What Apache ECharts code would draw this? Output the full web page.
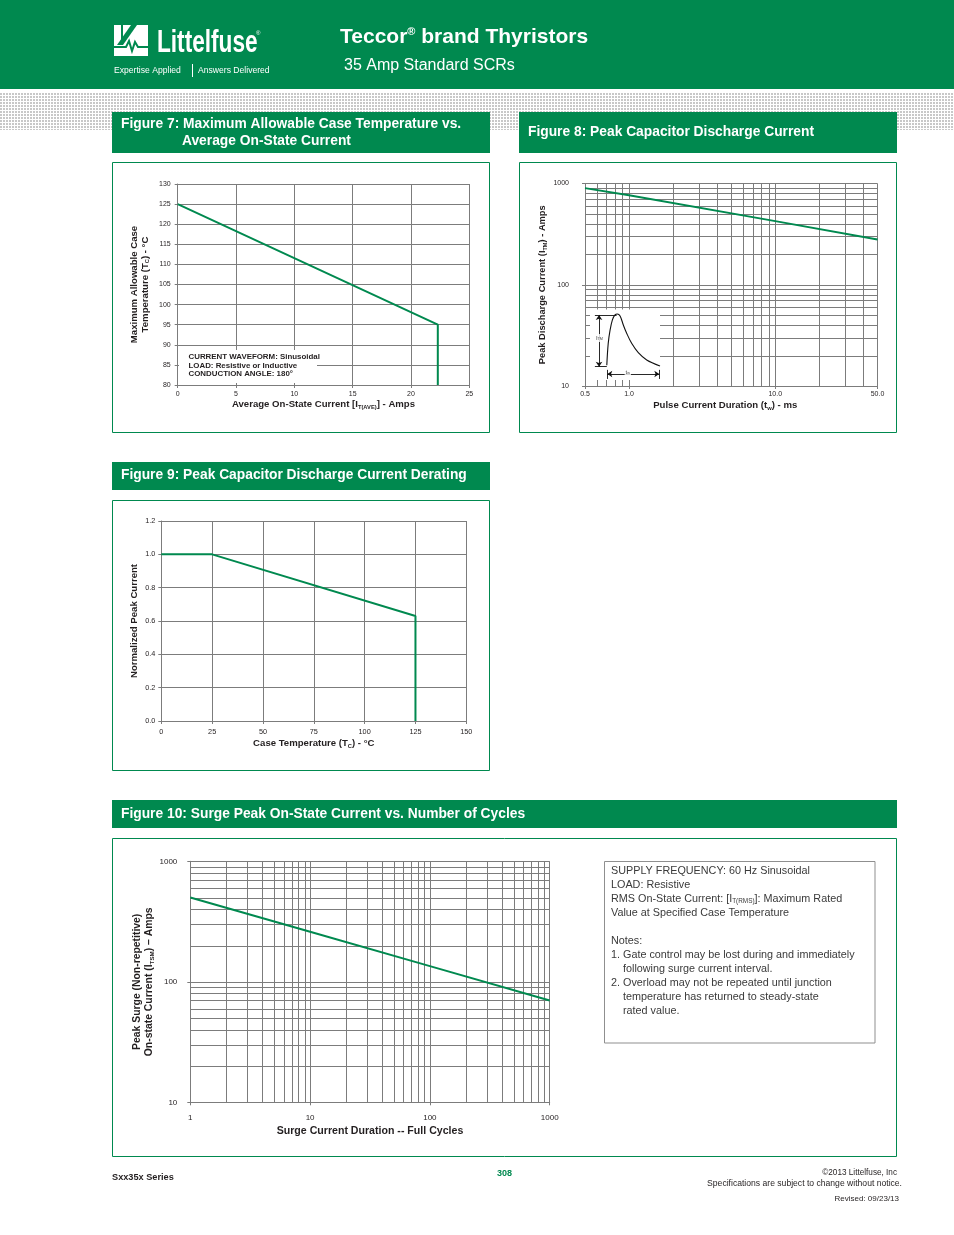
<!DOCTYPE html>
<html><head><meta charset="utf-8">
<script src="https://cdn.jsdelivr.net/npm/echarts@6/dist/echarts.min.js"></script>
<style>html,body{margin:0;padding:0;background:#fff}#c{width:954px;height:1235px}</style>
</head><body><div id="c"></div>
<script>
// ---------------- data ----------------
// Figure 7
const fig7Current = [0, 22.3, 22.3];
const fig7CaseTemp = [125, 95, 80];
// Figure 8
const fig8Duration = [0.5, 1, 10, 50];
const fig8PeakCurrent = [900, 765, 425, 280];
const fig8MinorX = [0.6, 0.7, 0.8, 0.9, 2, 3, 4, 5, 6, 7, 8, 9, 20, 30, 40];
const fig8MinorY = [20, 30, 40, 50, 60, 70, 80, 90, 200, 300, 400, 500, 600, 700, 800, 900];
// Figure 8 inset (schematic pulse, inset units 0..100)
const insetPulseX = [24, 26, 28.6, 32, 35.7, 39, 43, 47.6, 52.4, 59.5, 69, 81, 100];
const insetPulseY = [21, 52, 71, 86, 93, 94.3, 91.4, 78.6, 66.7, 52.4, 39, 28.6, 20];
// [x1, y1, x2, y2, arrowAtStart, arrowAtEnd]
const insetGuides = [
  [12.9, 92.9, 12.9, 19, 1, 1],
  [7, 92.9, 38, 92.9, 0, 0],
  [7, 19, 24, 19, 0, 0],
  [24.7, 8.6, 99, 8.6, 1, 1],
  [24.7, 14.5, 24.7, 1.5, 0, 0],
  [99, 14.5, 99, 1.5, 0, 0]
];
const insetLabels = [[13.5, 60, 'I{s|TM}'], [54, 11.5, 't{s|w}']];
// Figure 9
const fig9CaseTemp = [0, 25, 125, 125];
const fig9Normalized = [1.0, 1.0, 0.63, 0];
// Figure 10
const fig10Cycles = [1, 10, 100, 1000];
const fig10Surge = [500, 260, 135, 70];
const fig10MinorX = [2, 3, 4, 5, 6, 7, 8, 9, 20, 30, 40, 50, 60, 70, 80, 90, 200, 300, 400, 500, 600, 700, 800, 900];
const fig10MinorY = [20, 30, 40, 50, 60, 70, 80, 90, 200, 300, 400, 500, 600, 700, 800, 900];
// Notes
const notesLines = [
  'SUPPLY FREQUENCY: 60 Hz Sinusoidal',
  'LOAD: Resistive',
  'RMS On-State Current: [I{s|T(RMS)}]: Maximum Rated',
  'Value at Specified Case Temperature',
  '',
  'Notes:',
  '1. Gate control may be lost during and immediately',
  '   following surge current interval.',
  '2. Overload may not be repeated until junction',
  '   temperature has returned to steady-state',
  '   rated value.'
];

// ---------------- style ----------------
const GREEN = '#00894f';
const GRIDC = '#7c7c7c';
const TXT = '#231f20';
const FF = "'Liberation Sans', Arial, Helvetica, sans-serif";

function subRich(size) {
  return { s: { fontFamily: FF, fontSize: size * 0.6, fontWeight: 'bold', color: TXT, verticalAlign: 'bottom', lineHeight: size * 0.9 } };
}
function axis(gridIndex, cfg) {
  const a = {
    gridIndex,
    type: cfg.type || 'value',
    min: cfg.min, max: cfg.max,
    name: cfg.name, nameLocation: 'middle', nameGap: cfg.nameGap,
    nameTextStyle: { color: TXT, fontFamily: FF, fontSize: cfg.nameSize, fontWeight: 'bold', lineHeight: cfg.nameLH || cfg.nameSize * 1.2, padding: cfg.namePad || 0, rich: subRich(cfg.nameSize) },
    axisLine: { show: true, lineStyle: { color: GRIDC, width: 1 } },
    axisTick: { show: true, inside: false, length: 3, lineStyle: { color: GRIDC } },
    splitLine: { show: true, lineStyle: { color: GRIDC, width: 1, type: 'solid' } },
    axisLabel: { color: TXT, fontFamily: FF, fontSize: cfg.labelSize, margin: cfg.margin, showMinLabel: true, showMaxLabel: true, hideOverlap: false, formatter: cfg.formatter },
    minorTick: { show: false }, minorSplitLine: { show: false }
  };
  if (cfg.interval != null) a.interval = cfg.interval;
  if (a.type === 'log') a.logBase = 10;
  return a;
}
function minorGrid(idx, xs, ys, yRef, xRef) {
  const data = xs.map(v => [v, yRef, 0]).concat(ys.map(v => [xRef, v, 1]));
  return {
    type: 'custom', xAxisIndex: idx, yAxisIndex: idx, z: 1, silent: true, data,
    renderItem(params, api) {
      const cs = params.coordSys;
      const p = api.coord([api.value(0), api.value(1)]);
      const shape = api.value(2) === 0
        ? { x1: Math.round(p[0]) + 0.5, y1: cs.y, x2: Math.round(p[0]) + 0.5, y2: cs.y + cs.height }
        : { x1: cs.x, y1: Math.round(p[1]) + 0.5, x2: cs.x + cs.width, y2: Math.round(p[1]) + 0.5 };
      return { type: 'line', shape, style: { stroke: GRIDC, lineWidth: 1 } };
    }
  };
}
function dataLine(idx, xs, ys) {
  return {
    type: 'line', xAxisIndex: idx, yAxisIndex: idx, z: 3, symbol: 'none', silent: true,
    lineStyle: { color: GREEN, width: 2 }, data: xs.map((x, i) => [x, ys[i]])
  };
}

// dotted pattern
const dot = document.createElement('canvas');
dot.width = 3; dot.height = 3;
const dctx = dot.getContext('2d');
dctx.fillStyle = '#c8c8c8'; dctx.fillRect(0, 0, 2, 2);

function txt(x, y, text, o) {
  o = o || {};
  return {
    type: 'text', x, y, z: o.z != null ? o.z : 10, silent: true,
    scaleX: o.sx || 1, originX: 0, originY: 0,
    style: {
      text, x: 0, y: 0, fill: o.color || TXT, fontFamily: FF, fontSize: o.size || 10,
      fontWeight: o.weight || 'normal', align: o.align || 'left', verticalAlign: 'middle', rich: o.rich
    }
  };
}
function rect(x, y, w, h, style, z) {
  return { type: 'rect', z: z != null ? z : 0, silent: true, shape: { x, y, width: w, height: h }, style };
}

const g = [];
// header
g.push(rect(0, 0, 954, 89, { fill: GREEN }, 0));
g.push(rect(0, 93, 954, 37, { fill: { image: dot, repeat: 'repeat' } }, 0));
// logo icon
g.push(rect(114, 25, 34, 31, { fill: '#fff' }, 1));
g.push({ type: 'polygon', z: 2, silent: true, shape: { points: [[131, 25], [137, 25], [123, 45], [117, 45]] }, style: { fill: GREEN } });
g.push({ type: 'polyline', z: 2, silent: true, shape: { points: [[114, 47], [126, 47], [129, 41], [132, 51], [135, 42], [138, 47], [148, 47]] }, style: { stroke: GREEN, lineWidth: 2, fill: null } });
g.push(rect(121, 25, 2, 18, { fill: GREEN }, 2));
g.push(txt(157, 43, 'Littelfuse', { size: 31, weight: 'bold', color: '#fff', sx: 0.73 }));
g.push(txt(256, 33, '®', { size: 6, color: '#fff' }));
g.push(txt(114, 70.5, 'Expertise Applied', { size: 8.6, color: '#fff' }));
g.push({ type: 'line', z: 2, silent: true, shape: { x1: 192.5, y1: 64, x2: 192.5, y2: 77 }, style: { stroke: '#fff', lineWidth: 1 } });
g.push(txt(198, 70.5, 'Answers Delivered', { size: 8.6, color: '#fff' }));
g.push(txt(340, 37, 'Teccor{sup|®} brand Thyristors', { size: 21, weight: 'bold', color: '#fff', rich: { sup: { fontSize: 11, fontWeight: 'bold', fill: '#fff', color: '#fff', verticalAlign: 'top', fontFamily: FF } } }));
g.push(txt(344, 66, '35 Amp Standard SCRs', { size: 16, color: '#fff' }));

// title boxes
const TS = 13.8;
g.push(rect(112, 112, 378, 41, { fill: GREEN }, 1));
g.push(txt(121, 124.5, 'Figure 7: Maximum Allowable Case Temperature vs.', { size: TS, weight: 'bold', color: '#fff' }));
g.push(txt(182, 141.5, 'Average On-State Current', { size: TS, weight: 'bold', color: '#fff' }));
g.push(rect(519, 112, 378, 41, { fill: GREEN }, 1));
g.push(txt(528, 132.5, 'Figure 8: Peak Capacitor Discharge Current', { size: TS, weight: 'bold', color: '#fff' }));
g.push(rect(112, 462, 378, 28, { fill: GREEN }, 1));
g.push(txt(121, 475.5, 'Figure 9: Peak Capacitor Discharge Current Derating', { size: TS, weight: 'bold', color: '#fff' }));
g.push(rect(112, 800, 785, 28, { fill: GREEN }, 1));
g.push(txt(121, 814.5, 'Figure 10: Surge Peak On-State Current vs. Number of Cycles', { size: TS, weight: 'bold', color: '#fff' }));

// frames
const frame = { fill: 'none', stroke: GREEN, lineWidth: 1 };
g.push(rect(112.5, 162.5, 377, 270, frame, 1));
g.push(rect(519.5, 162.5, 377, 270, frame, 1));
g.push(rect(112.5, 500.5, 377, 270, frame, 1));
g.push(rect(112.5, 838.5, 784, 318, frame, 1));

// fig 7 annotation
g.push(rect(179, 350, 138, 33, { fill: '#fff' }, 3));
g.push(txt(188.5, 357.3, 'CURRENT WAVEFORM: Sinusoidal', { size: 7.9, weight: 'bold', z: 4 }));
g.push(txt(188.5, 365.6, 'LOAD: Resistive or Inductive', { size: 7.9, weight: 'bold', z: 4 }));
g.push(txt(188.5, 374, 'CONDUCTION ANGLE: 180°', { size: 7.9, weight: 'bold', z: 4 }));

// fig 8 inset background
g.push(rect(590, 309.5, 70, 70.5, { fill: '#fff' }, 3));

// notes box
g.push(rect(604.5, 861.5, 270.5, 181.5, { fill: 'none', stroke: '#8f8f8f', lineWidth: 1 }, 1));
const notesY = [871, 885, 899, 913, 927, 941, 955, 969, 983, 997, 1011.5];
notesLines.forEach((t, i) => {
  if (!t) return;
  const indent = t.startsWith('   ');
  g.push(txt(indent ? 623 : 611, notesY[i], t.trim(), { size: 10.8, color: '#3a3a3a', rich: { s: { fontSize: 6.4, fontFamily: FF, fill: '#3a3a3a', color: '#3a3a3a', verticalAlign: 'bottom' } } }));
});

// footer
g.push(txt(112, 1177.5, 'Sxx35x Series', { size: 9.2, weight: 'bold' }));
g.push(txt(497, 1173.5, '308', { size: 9, weight: 'bold', color: GREEN }));
g.push(txt(897, 1172.5, '©2013 Littelfuse, Inc', { size: 8.2, align: 'right' }));
g.push(txt(902, 1184, 'Specifications are subject to change without notice.', { size: 8.6, align: 'right' }));
g.push(txt(899, 1198.5, 'Revised: 09/23/13', { size: 8, align: 'right' }));

const oneDec = v => Number(v).toFixed(1);
const plain = v => String(Math.round(v));

const option = {
  animation: false,
  backgroundColor: '#fff',
  grid: [
    { left: 177.7, top: 184, width: 291.6, height: 201, outerBoundsMode: 'none', containLabel: false },
    { left: 585, top: 183.5, width: 292.5, height: 202.5, outerBoundsMode: 'none', containLabel: false },
    { left: 161.3, top: 521, width: 305, height: 200, outerBoundsMode: 'none', containLabel: false },
    { left: 190.3, top: 861.3, width: 359.4, height: 241, outerBoundsMode: 'none', containLabel: false },
    { left: 590, top: 310, width: 70, height: 70, outerBoundsMode: 'none', containLabel: false, show: false }
  ],
  xAxis: [
    axis(0, { min: 0, max: 25, interval: 5, name: 'Average On-State Current [I{s|T(AVE)}] - Amps', nameGap: 14, nameSize: 9.6, labelSize: 7, margin: 6 }),
    axis(1, { type: 'log', min: 0.5, max: 50, name: 'Pulse Current Duration (t{s|w}) - ms', nameGap: 14, nameSize: 9.6, labelSize: 7, margin: 5, formatter: oneDec, namePad: [0, 12, 0, 0] }),
    axis(2, { min: 0, max: 150, interval: 25, name: 'Case Temperature (T{s|C}) - °C', nameGap: 17, nameSize: 9.6, labelSize: 7.3, margin: 7 }),
    axis(3, { type: 'log', min: 1, max: 1000, name: 'Surge Current Duration -- Full Cycles', nameGap: 22, nameSize: 10.6, labelSize: 8, margin: 11, formatter: plain }),
    { gridIndex: 4, type: 'value', min: 0, max: 100, show: false }
  ],
  yAxis: [
    axis(0, { min: 80, max: 130, interval: 5, name: 'Maximum Allowable Case\nTemperature (T{s|C}) - °C', nameGap: 27, nameSize: 9.6, nameLH: 11, labelSize: 7, margin: 7 }),
    axis(1, { type: 'log', min: 10, max: 1000, name: 'Peak Discharge Current (I{s|TM}) - Amps', nameGap: 37, nameSize: 9.3, labelSize: 7, margin: 16, formatter: plain }),
    axis(2, { min: 0, max: 1.2, interval: 0.2, name: 'Normalized Peak Current', nameGap: 21, nameSize: 9.6, labelSize: 7.3, margin: 6, formatter: oneDec }),
    axis(3, { type: 'log', min: 10, max: 1000, name: 'Peak Surge (Non-repetitive)\nOn-state Current (I{s|TSM}) – Amps', nameGap: 28, nameSize: 10.4, nameLH: 12, labelSize: 8, margin: 13, formatter: plain }),
    { gridIndex: 4, type: 'value', min: 0, max: 100, show: false }
  ],
  graphic: { elements: g },
  series: [
    dataLine(0, fig7Current, fig7CaseTemp),
    minorGrid(1, fig8MinorX, fig8MinorY, 10, 0.5),
    dataLine(1, fig8Duration, fig8PeakCurrent),
    dataLine(2, fig9CaseTemp, fig9Normalized),
    minorGrid(3, fig10MinorX, fig10MinorY, 10, 1),
    dataLine(3, fig10Cycles, fig10Surge),
    {
      type: 'line', xAxisIndex: 4, yAxisIndex: 4, z: 6, symbol: 'none', smooth: 0.35, silent: true,
      lineStyle: { color: '#111', width: 1.1 },
      data: insetPulseX.map((x, i) => [x, insetPulseY[i]]),
      markLine: {
        silent: true, symbolSize: 5, animation: false,
        label: { show: false },
        lineStyle: { color: '#111', width: 0.9, type: 'solid' },
        emphasis: { disabled: true },
        data: insetGuides.map(d => [
          { coord: [d[0], d[1]], symbol: d[4] ? 'arrow' : 'none' },
          { coord: [d[2], d[3]], symbol: d[5] ? 'arrow' : 'none' }
        ])
      }
    },
    {
      type: 'scatter', xAxisIndex: 4, yAxisIndex: 4, z: 8, silent: true, symbolSize: 1,
      itemStyle: { color: 'rgba(0,0,0,0)' },
      data: insetLabels.map(d => ({ value: [d[0], d[1]], label: { formatter: d[2] } })),
      label: {
        show: true, position: 'inside', color: '#111', fontFamily: FF, fontSize: 6, backgroundColor: '#fff', padding: [1, 1],
        rich: { s: { fontSize: 3.8, fontFamily: FF, color: '#111', verticalAlign: 'bottom' } }
      }
    }
  ]
};

const chart = echarts.init(document.getElementById('c'), null, { renderer: 'canvas' });
chart.setOption(option);
</script>
</body></html>
